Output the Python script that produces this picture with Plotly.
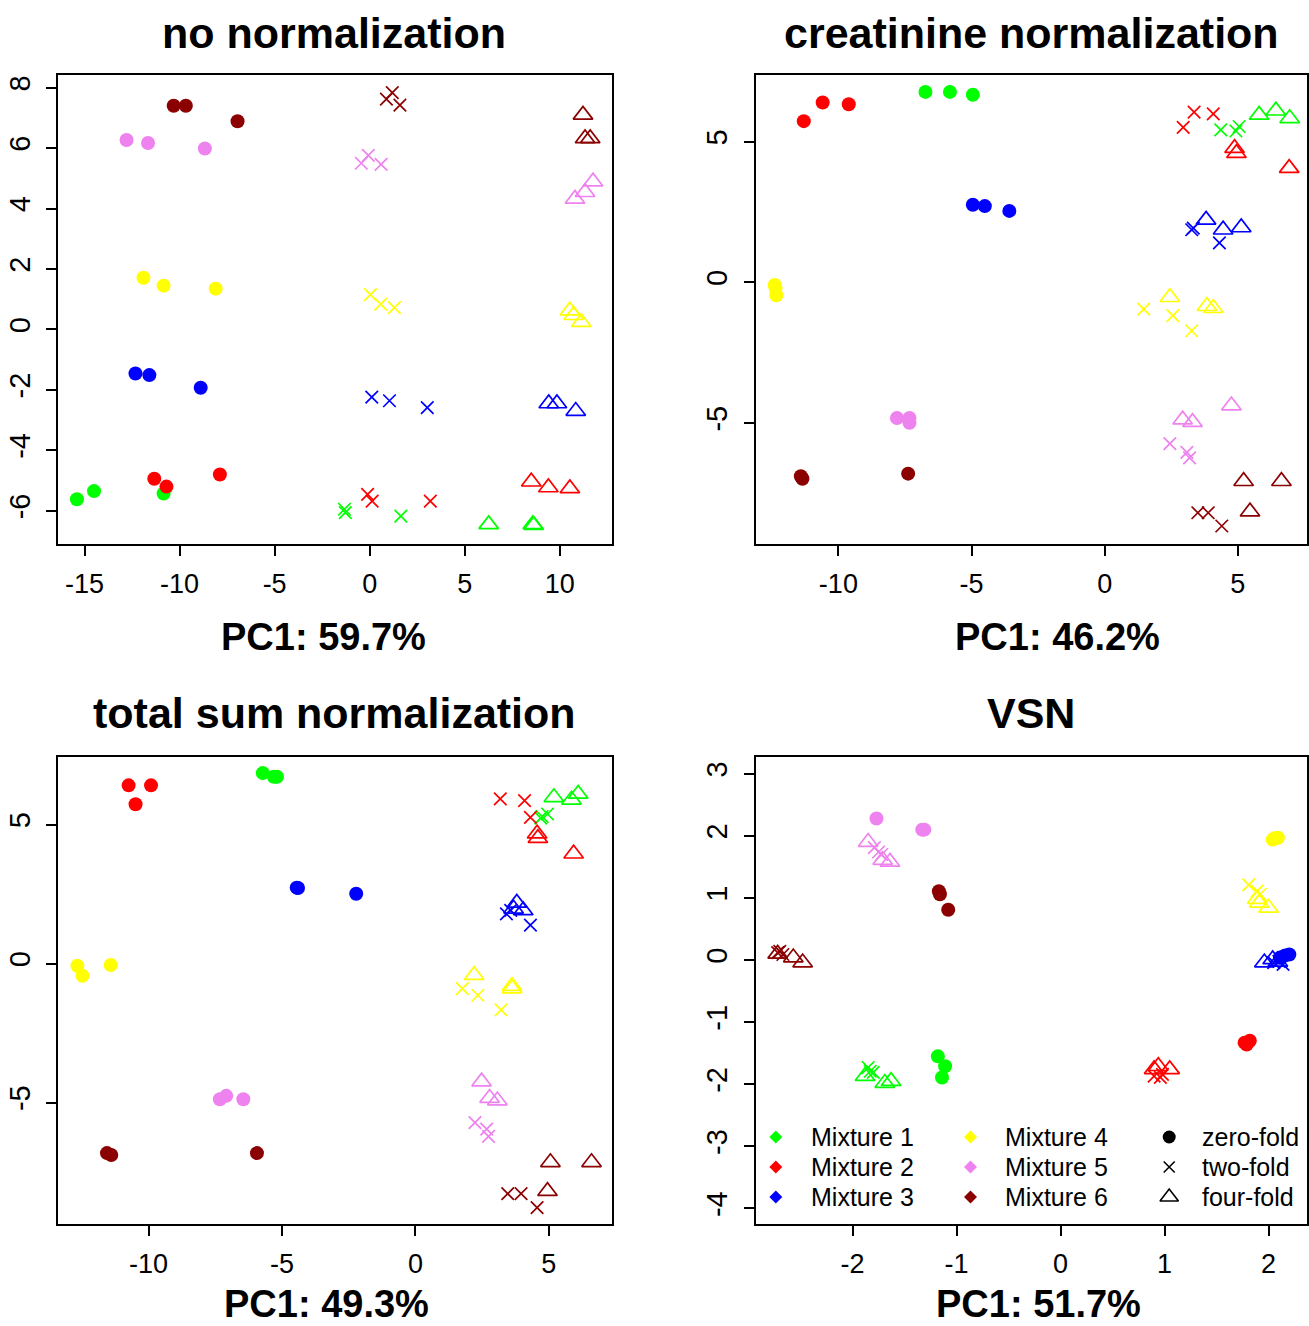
import plotly.graph_objects as go

W, H = 1309, 1326

# ---------------- data ----------------
mixtures = ["Mixture 1", "Mixture 2", "Mixture 3", "Mixture 4", "Mixture 5", "Mixture 6"]
mix_colors = ["#00FF00", "#FF0000", "#0000FF", "#FFFF00", "#EE82EE", "#8B0000"]
folds = ["zero-fold", "two-fold", "four-fold"]
panel_titles = ["no normalization", "creatinine normalization", "total sum normalization", "VSN"]
pc1_labels = ["PC1: 59.7%", "PC1: 46.2%", "PC1: 49.3%", "PC1: 51.7%"]

# each array: 3 replicates per mixture, mixtures 1..6 in order
nonorm_zero_x = [-15.4, -14.5, -10.84, -11.33, -10.69, -7.88, -12.32, -11.59, -8.89,
                 -11.9, -10.84, -8.1, -12.79, -11.66, -8.67, -10.31, -9.67, -6.95]
nonorm_zero_y = [-5.62, -5.35, -5.43, -4.94, -5.2, -4.8, -1.46, -1.51, -1.93,
                 1.71, 1.45, 1.35, 6.27, 6.17, 5.99, 7.4, 7.4, 6.89]
nonorm_two_x = [-1.33, -1.28, 1.64, -0.11, 0.13, 3.19, 0.11, 1.04, 3.03,
                0.04, 0.58, 1.3, -0.44, -0.07, 0.6, 0.88, 1.19, 1.59]
nonorm_two_y = [-5.95, -6.06, -6.18, -5.46, -5.68, -5.68, -2.24, -2.36, -2.59,
                1.15, 0.84, 0.72, 5.5, 5.76, 5.46, 7.62, 7.84, 7.42]
nonorm_four_x = [6.26, 8.58, 8.63, 8.5, 9.4, 10.53, 9.42, 9.85, 10.84,
                 10.53, 10.73, 11.13, 10.8, 11.33, 11.75, 11.22, 11.33, 11.6]
nonorm_four_y = [-6.45, -6.45, -6.48, -5.04, -5.23, -5.26, -2.45, -2.45, -2.7,
                 0.62, 0.47, 0.24, 4.32, 4.54, 4.89, 7.1, 6.32, 6.32]

creat_zero_x = [-6.73, -5.81, -4.95, -11.3, -10.59, -9.61, -4.95, -4.5, -3.58,
                -12.39, -12.33, -12.36, -7.8, -7.33, -7.33, -11.41, -11.35, -7.38]
creat_zero_y = [6.77, 6.77, 6.67, 5.73, 6.39, 6.33, 2.76, 2.71, 2.54,
                -0.09, -0.46, -0.2, -4.82, -4.82, -4.99, -6.89, -6.98, -6.8]
creat_two_x = [4.36, 4.93, 5.05, 2.95, 3.36, 4.08, 3.27, 3.33, 4.31,
               1.47, 2.56, 3.27, 2.45, 3.09, 3.19, 3.5, 3.89, 4.4]
creat_two_y = [5.42, 5.38, 5.54, 5.51, 6.05, 5.99, 1.87, 1.93, 1.4,
               -0.95, -1.18, -1.72, -5.73, -6.04, -6.24, -8.19, -8.19, -8.66]
creat_four_x = [5.8, 6.43, 6.95, 4.88, 4.95, 6.93, 3.81, 4.45, 5.13,
                2.45, 3.84, 4.08, 2.93, 3.3, 4.76, 5.22, 6.64, 5.46]
creat_four_y = [5.95, 6.1, 5.83, 4.77, 4.59, 4.06, 2.22, 1.87, 1.95,
                -0.53, -0.85, -0.92, -4.88, -4.97, -4.38, -7.07, -7.07, -8.15]

tsum_zero_x = [-5.72, -5.31, -5.19, -10.75, -9.91, -10.49, -4.45, -2.22, -4.4,
               -12.67, -12.48, -11.42, -7.33, -7.09, -6.45, -11.56, -11.4, -5.94]
tsum_zero_y = [6.85, 6.72, 6.72, 6.41, 6.41, 5.73, 2.73, 2.51, 2.72,
               -0.08, -0.44, -0.05, -4.88, -4.76, -4.88, -6.82, -6.89, -6.82]
tsum_two_x = [4.75, 4.95, 4.7, 3.18, 4.09, 4.31, 3.41, 3.57, 4.31,
              1.76, 2.34, 3.21, 2.23, 2.67, 2.74, 3.46, 3.96, 4.56]
tsum_two_y = [5.29, 5.38, 5.23, 5.92, 5.86, 5.26, 1.79, 1.91, 1.38,
              -0.9, -1.14, -1.67, -5.72, -5.96, -6.22, -8.28, -8.28, -8.78]
tsum_four_x = [5.19, 5.85, 6.1, 4.56, 4.59, 5.93, 3.8, 3.68, 4.04,
               2.2, 3.62, 3.62, 2.48, 2.78, 3.07, 5.06, 6.6, 4.95]
tsum_four_y = [5.98, 5.89, 6.1, 4.67, 4.51, 3.95, 2.18, 1.97, 1.91,
               -0.42, -0.81, -0.9, -4.25, -4.84, -4.93, -7.15, -7.15, -8.19]

vsn_zero_x = [-1.18, -1.11, -1.14, 1.77, 1.82, 1.79, 2.16, 2.2, 2.11,
              2.06, 2.09, 2.04, -1.77, -1.33, -1.31, -1.17, -1.16, -1.08]
vsn_zero_y = [-1.55, -1.71, -1.89, -1.33, -1.3, -1.36, 0.075, 0.09, 0.04,
              1.96, 1.97, 1.94, 2.28, 2.1, 2.1, 1.11, 1.06, 0.81]
vsn_two_x = [-1.85, -1.8, -1.83, 0.9, 0.96, 0.98, 2.05, 2.1, 2.14,
             1.81, 1.89, 1.92, -1.79, -1.75, -1.72, -2.72, -2.67, -2.7]
vsn_two_y = [-1.73, -1.81, -1.79, -1.87, -1.89, -1.84, -0.04, -0.02, -0.07,
             1.21, 1.11, 1.06, 1.81, 1.74, 1.7, 0.12, 0.09, 0.14]
vsn_four_x = [-1.88, -1.69, -1.63, 0.9, 0.94, 1.05, 1.96, 2.04, 2.09,
              1.89, 1.91, 2.0, -1.85, -1.71, -1.64, -2.72, -2.57, -2.48]
vsn_four_y = [-1.87, -1.98, -1.95, -1.76, -1.71, -1.76, -0.04, 0.01, -0.03,
              0.98, 0.92, 0.84, 1.9, 1.61, 1.58, 0.1, 0.04, -0.04]

x_ticks = [[-15, -10, -5, 0, 5, 10], [-10, -5, 0, 5], [-10, -5, 0, 5], [-2, -1, 0, 1, 2]]
y_ticks = [[-6, -4, -2, 0, 2, 4, 6, 8], [-5, 0, 5], [-5, 0, 5], [-4, -3, -2, -1, 0, 1, 2, 3]]

# ---------------- layout geometry ----------------
x_ranges = [[-16.4, 12.75], [-13.1, 7.6], [-13.4, 7.37], [-2.93, 2.37]]
y_ranges = [[-7.1, 8.42], [-9.3, 7.37], [-9.37, 7.43], [-4.25, 3.27]]
boxes = [(58, 613, 75, 544), (757, 1309, 75, 544),
         (58, 613, 757, 1224), (757, 1309, 757, 1224)]
title_pos = [(335, 33), (1033, 33), (335, 713), (1033, 713)]
xlab_pos = [(324, 637), (1059, 637), (327, 1304), (1040, 1304)]

FONT = "Liberation Sans, Arial, Helvetica, sans-serif"

fold_style = {
    "zero-fold": dict(symbol="circle", size=14, lw=0),
    "two-fold": dict(symbol="x-thin-open", size=12.5, lw=1.7),
    "four-fold": dict(symbol="triangle-up-open", size=17, lw=1.7),
}

panel_data = [
    [(nonorm_zero_x, nonorm_zero_y), (nonorm_two_x, nonorm_two_y), (nonorm_four_x, nonorm_four_y)],
    [(creat_zero_x, creat_zero_y), (creat_two_x, creat_two_y), (creat_four_x, creat_four_y)],
    [(tsum_zero_x, tsum_zero_y), (tsum_two_x, tsum_two_y), (tsum_four_x, tsum_four_y)],
    [(vsn_zero_x, vsn_zero_y), (vsn_two_x, vsn_two_y), (vsn_four_x, vsn_four_y)],
]

fig = go.Figure()

for p in range(4):
    suffix = "" if p == 0 else str(p + 1)
    for f, fold in enumerate(folds):
        xs, ys = panel_data[p][f]
        st = fold_style[fold]
        for m in range(len(mixtures)):
            c = mix_colors[m]
            fig.add_trace(go.Scatter(
                x=xs[3 * m:3 * m + 3], y=ys[3 * m:3 * m + 3],
                mode="markers", xaxis="x" + suffix, yaxis="y" + suffix,
                showlegend=False, hoverinfo="skip", cliponaxis=True,
                marker=dict(symbol=st["symbol"], size=st["size"], color=c,
                            line=dict(color=c, width=st["lw"])),
            ))

axis_common = dict(showline=True, mirror=True, linecolor="black", linewidth=1.6,
                   ticks="outside", ticklen=10, tickwidth=1.6, tickcolor="black",
                   showgrid=False, zeroline=False)

layout = {}
annotations = []
for p in range(4):
    suffix = "" if p == 0 else str(p + 1)
    x0, x1, y0, y1 = boxes[p]
    layout["xaxis" + suffix] = dict(
        axis_common, domain=[x0 / W, min(x1 / W, 1.0)], range=x_ranges[p],
        tickmode="array", tickvals=x_ticks[p], ticktext=[str(v) for v in x_ticks[p]],
        anchor="y" + suffix, ticklabelstandoff=5,
        tickfont=dict(family=FONT, size=27, color="black"))
    layout["yaxis" + suffix] = dict(
        axis_common, domain=[1 - y1 / H, 1 - y0 / H], range=y_ranges[p],
        tickmode="array", tickvals=y_ticks[p], ticktext=[str(v) for v in y_ticks[p]],
        anchor="x" + suffix, tickangle=-90, ticklabelstandoff=5,
        tickfont=dict(family=FONT, size=29, color="black"))
    tx, ty = title_pos[p]
    annotations.append(dict(text="<b>%s</b>" % panel_titles[p], x=tx / W, y=1 - ty / H,
                            xref="paper", yref="paper", xanchor="center", yanchor="middle",
                            showarrow=False, font=dict(family=FONT, size=43, color="black")))
    lx, ly = xlab_pos[p]
    annotations.append(dict(text="<b>%s</b>" % pc1_labels[p], x=lx / W, y=1 - ly / H,
                            xref="paper", yref="paper", xanchor="center", yanchor="middle",
                            showarrow=False, font=dict(family=FONT, size=38, color="black")))

# ---------------- legend (inside VSN panel) ----------------
layout["xaxis5"] = dict(domain=[0, 1], range=[0, W], visible=False, anchor="y5")
layout["yaxis5"] = dict(domain=[0, 1], range=[H, 0], visible=False, anchor="x5")

key_col_x = [777, 972, 1171]
text_col_x = [810, 1005, 1202]
key_row_y = [1137, 1167, 1197]

for m in range(6):
    col, row = m // 3, m % 3
    fig.add_trace(go.Scatter(
        x=[key_col_x[col]], y=[key_row_y[row]], mode="markers", xaxis="x5", yaxis="y5",
        showlegend=False, hoverinfo="skip",
        marker=dict(symbol="diamond", size=10, color=mix_colors[m], line=dict(width=0))))
    annotations.append(dict(text=mixtures[m], x=text_col_x[col] / W, y=1 - key_row_y[row] / H,
                            xref="paper", yref="paper", xanchor="left", yanchor="middle",
                            showarrow=False, font=dict(family=FONT, size=25, color="black")))

legend_fold_style = {
    "zero-fold": dict(symbol="circle", size=13, lw=0),
    "two-fold": dict(symbol="x-thin-open", size=11, lw=1.6),
    "four-fold": dict(symbol="triangle-up-open", size=16, lw=1.6),
}
for f, fold in enumerate(folds):
    st = legend_fold_style[fold]
    fig.add_trace(go.Scatter(
        x=[key_col_x[2]], y=[key_row_y[f]], mode="markers", xaxis="x5", yaxis="y5",
        showlegend=False, hoverinfo="skip",
        marker=dict(symbol=st["symbol"], size=st["size"], color="black",
                    line=dict(color="black", width=st["lw"]))))
    annotations.append(dict(text=fold, x=text_col_x[2] / W, y=1 - key_row_y[f] / H,
                            xref="paper", yref="paper", xanchor="left", yanchor="middle",
                            showarrow=False, font=dict(family=FONT, size=25, color="black")))

fig.update_layout(**layout)
fig.update_layout(width=W, height=H, margin=dict(l=0, r=0, t=0, b=0),
                  paper_bgcolor="white", plot_bgcolor="rgba(0,0,0,0)",
                  showlegend=False, annotations=annotations)

fig.write_html("out.html", config={"displayModeBar": False},
               post_script="document.body.style.margin='0';document.body.style.overflow='hidden';")
